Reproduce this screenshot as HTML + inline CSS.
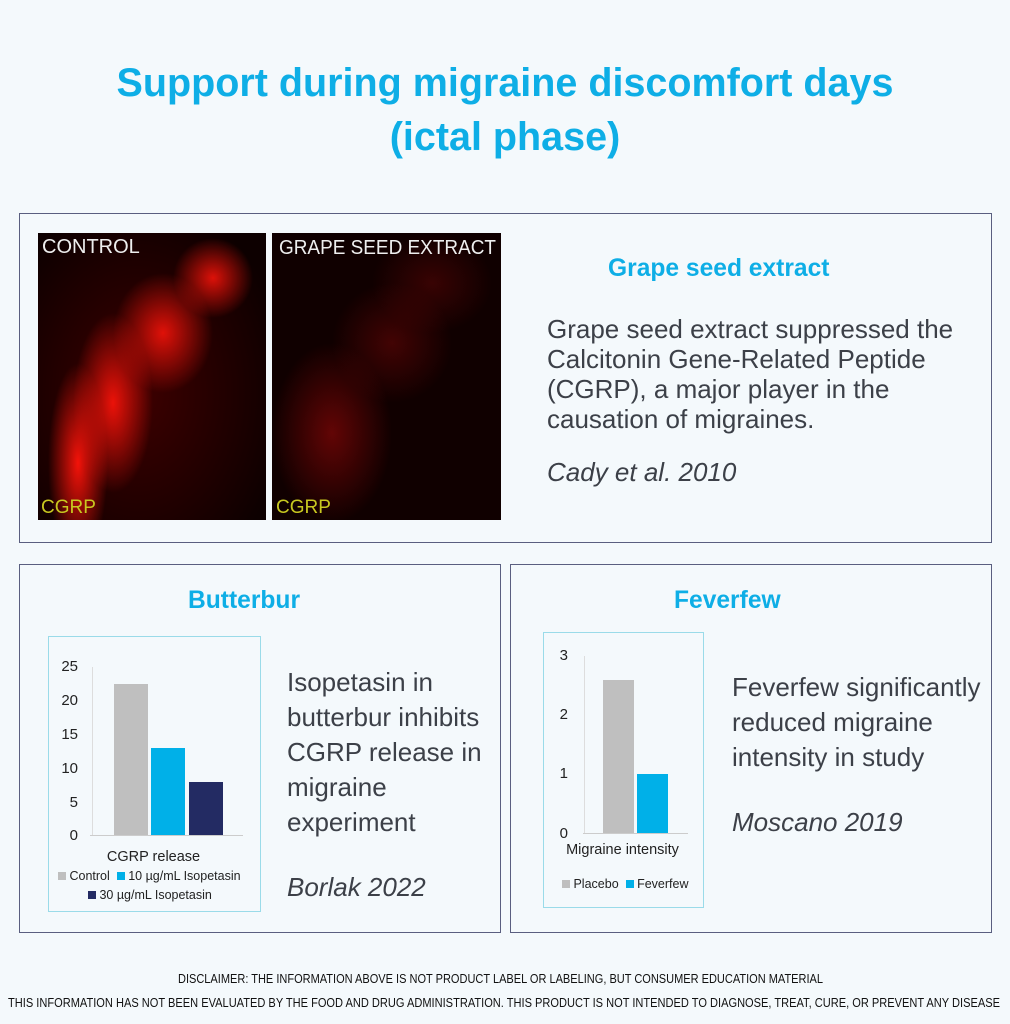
<!DOCTYPE html>
<html><head><meta charset="utf-8">
<style>
body{margin:0;width:1010px;height:1024px;background:#f4f9fc;position:relative;overflow:hidden;font-family:"Liberation Sans",Arial,sans-serif}
.a{position:absolute}
.title{left:0;width:1010px;text-align:center;color:#0eaee6;font-weight:bold;font-size:39.5px;line-height:54px;top:56px}
.box{border:1px solid #5a5f80;background:#f4f9fc}
.h{color:#0eaee6;font-weight:bold;font-size:24.6px}
.t{color:#3c4048;font-size:26px;line-height:35px}
.img{background:#0a0000;overflow:hidden}
.lbl{color:#eee;font-size:20px;letter-spacing:0px}
.cg{color:#c8c820;font-size:19px}
.chart{border:1px solid #9adbe9;background:#f4f9fc}
.tick{font-size:15px;color:#222;text-align:right;width:30px}
.leg{font-size:12.5px;color:#222}
</style></head><body>
<div class="a title">Support during migraine discomfort days<br>(ictal phase)</div>

<div class="a box" style="left:19px;top:213px;width:971px;height:328px"></div>
<div class="a img" style="left:38px;top:233px;width:228px;height:287px;background:
radial-gradient(ellipse 30px 100px at 40px 230px,rgba(255,20,10,.95),transparent),
radial-gradient(ellipse 40px 90px at 75px 170px,rgba(255,20,10,.9),transparent),
radial-gradient(ellipse 50px 60px at 125px 100px,rgba(255,20,10,.85),transparent),
radial-gradient(ellipse 40px 40px at 175px 45px,rgba(255,20,10,.85),transparent),
radial-gradient(ellipse 150px 200px at 100px 160px,rgba(120,0,0,.45),transparent),#0d0000"></div>
<div class="a lbl" style="left:42px;top:236px">CONTROL</div>
<div class="a cg" style="left:41px;top:497px">CGRP</div>
<div class="a img" style="left:272px;top:233px;width:229px;height:287px;background:
radial-gradient(ellipse 60px 90px at 60px 200px,rgba(180,10,10,.5),transparent),
radial-gradient(ellipse 60px 60px at 120px 110px,rgba(160,10,10,.35),transparent),
radial-gradient(ellipse 60px 50px at 160px 50px,rgba(150,10,10,.3),transparent),#100000"></div>
<svg class="a" style="left:272px;top:233px" width="229" height="30"><text x="7" y="21" textLength="217" lengthAdjust="spacingAndGlyphs" font-size="20" fill="#eee" font-family="Liberation Sans">GRAPE SEED EXTRACT</text></svg>
<div class="a cg" style="left:276px;top:497px">CGRP</div>
<div class="a h" style="left:608px;top:255px">Grape seed extract</div>
<div class="a t" style="left:547px;top:314px;line-height:30px">Grape seed extract suppressed the<br>Calcitonin Gene-Related Peptide<br>(CGRP), a major player in the<br>causation of migraines.</div>
<div class="a t" style="left:547px;top:455px;font-style:italic">Cady et al. 2010</div>

<div class="a box" style="left:19px;top:564px;width:480px;height:367px"></div>
<div class="a h" style="left:188px;top:587px">Butterbur</div>
<div class="a chart" style="left:48px;top:636px;width:211px;height:274px"></div>
<div class="a" style="left:90px;top:835px;width:153px;height:1px;background:#ccc"></div>
<div class="a" style="left:92px;top:667px;width:1px;height:168px;background:#ddd"></div>
<div class="a tick" style="left:48px;top:658px">25</div>
<div class="a tick" style="left:48px;top:692px">20</div>
<div class="a tick" style="left:48px;top:726px">15</div>
<div class="a tick" style="left:48px;top:760px">10</div>
<div class="a tick" style="left:48px;top:794px">5</div>
<div class="a tick" style="left:48px;top:827px">0</div>
<div class="a" style="left:114px;top:684px;width:34px;height:151px;background:#bfbfbf"></div>
<div class="a" style="left:151px;top:748px;width:34px;height:87px;background:#00b0e8"></div>
<div class="a" style="left:189px;top:782px;width:34px;height:53px;background:#232b63"></div>
<div class="a" style="left:48px;top:849px;width:211px;text-align:center;font-size:14.5px;color:#222">CGRP release</div>
<div class="a leg" style="left:58px;top:869px"><span style="display:inline-block;width:8px;height:8px;background:#bfbfbf"></span> Control &nbsp;<span style="display:inline-block;width:8px;height:8px;background:#00b0e8"></span> 10 µg/mL Isopetasin</div>
<div class="a leg" style="left:88px;top:888px"><span style="display:inline-block;width:8px;height:8px;background:#232b63"></span> 30 µg/mL Isopetasin</div>
<div class="a t" style="left:287px;top:665px">Isopetasin in<br>butterbur inhibits<br>CGRP release in<br>migraine<br>experiment</div>
<div class="a t" style="left:287px;top:870px;font-style:italic">Borlak 2022</div>

<div class="a box" style="left:510px;top:564px;width:480px;height:367px"></div>
<div class="a h" style="left:674px;top:587px">Feverfew</div>
<div class="a chart" style="left:543px;top:632px;width:159px;height:274px"></div>
<div class="a" style="left:583px;top:833px;width:105px;height:1px;background:#ccc"></div>
<div class="a" style="left:584px;top:656px;width:1px;height:177px;background:#ddd"></div>
<div class="a tick" style="left:538px;top:647px">3</div>
<div class="a tick" style="left:538px;top:706px">2</div>
<div class="a tick" style="left:538px;top:765px">1</div>
<div class="a tick" style="left:538px;top:825px">0</div>
<div class="a" style="left:603px;top:680px;width:31px;height:153px;background:#bfbfbf"></div>
<div class="a" style="left:637px;top:774px;width:31px;height:59px;background:#00b0e8"></div>
<div class="a" style="left:543px;top:842px;width:159px;text-align:center;font-size:14.5px;color:#222">Migraine intensity</div>
<div class="a leg" style="left:562px;top:877px"><span style="display:inline-block;width:8px;height:8px;background:#bfbfbf"></span> Placebo &nbsp;<span style="display:inline-block;width:8px;height:8px;background:#00b0e8"></span> Feverfew</div>
<div class="a t" style="left:732px;top:670px">Feverfew significantly<br>reduced migraine<br>intensity in study</div>
<div class="a t" style="left:732px;top:805px;font-style:italic">Moscano 2019</div>

<svg class="a" style="left:0;top:960px" width="1010" height="64">
<text x="178" y="23" textLength="645" lengthAdjust="spacingAndGlyphs" font-size="13" fill="#111" font-family="Liberation Sans">DISCLAIMER: THE INFORMATION ABOVE IS NOT PRODUCT LABEL OR LABELING, BUT CONSUMER EDUCATION MATERIAL</text>
<text x="8" y="47" textLength="992" lengthAdjust="spacingAndGlyphs" font-size="13" fill="#111" font-family="Liberation Sans">THIS INFORMATION HAS NOT BEEN EVALUATED BY THE FOOD AND DRUG ADMINISTRATION. THIS PRODUCT IS NOT INTENDED TO DIAGNOSE, TREAT, CURE, OR PREVENT ANY DISEASE</text>
</svg>
</body></html>
